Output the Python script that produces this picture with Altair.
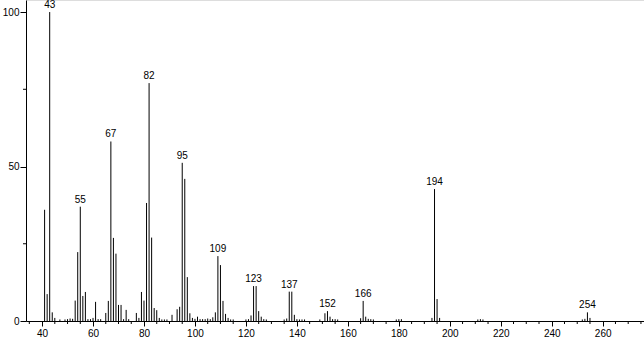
import altair as alt
import pandas as pd

# m/z values and relative intensities
mz = [41, 42, 43, 44, 45, 47, 49, 50, 51, 52, 53, 54, 55, 56, 57, 58, 59, 60, 61, 62, 63,
      65, 66, 67, 68, 69, 70, 71, 72, 73, 74, 77, 78, 79, 80, 81, 82, 83, 84, 85, 86, 87,
      88, 89, 91, 93, 94, 95, 96, 97, 98, 99, 100, 101, 102, 103, 104, 105, 106, 107, 108,
      109, 110, 111, 112, 113, 114, 115, 120, 121, 122, 123, 124, 125, 126, 127, 128,
      135, 136, 137, 138, 139, 140, 141, 142, 143, 149, 151, 152, 153, 154, 155, 156,
      165, 166, 167, 168, 169, 170, 179, 180, 181, 193, 194, 195, 196, 211, 212, 213,
      252, 253, 254, 255]
intensity = [36.0, 8.7, 100.0, 2.8, 1.0, 0.5, 0.5, 0.6, 0.8, 0.7, 6.6, 22.3, 37.0, 8.1, 9.4,
             0.6, 0.6, 1.0, 6.2, 0.6, 0.6,
             2.6, 6.5, 58.1, 26.9, 21.8, 5.2, 5.2, 0.6, 3.6, 0.6, 2.6, 1.0, 9.4, 6.6, 38.2,
             77.0, 27.0, 4.2, 3.5, 1.0, 0.5,
             0.5, 0.5, 2.0, 3.8, 4.6, 51.2, 46.0, 14.2, 2.5, 1.0, 0.7, 1.4, 0.6, 0.6, 0.6,
             0.8, 0.6, 1.2, 2.8,
             21.0, 18.1, 6.5, 2.3, 1.0, 0.5, 0.5, 0.5, 0.6, 1.8, 11.3, 11.3, 3.2, 1.4, 0.6, 0.5,
             0.5, 0.8, 9.5, 9.5, 2.0, 0.6, 0.5, 0.5, 0.5, 0.5, 2.5, 3.2, 1.4, 0.6, 0.6, 0.5,
             0.9, 6.5, 1.4, 0.7, 0.6, 0.5, 0.5, 0.6, 0.6, 1.0, 42.7, 7.1, 1.0, 0.5, 0.6, 0.5,
             0.5, 0.7, 2.8, 1.0]

labeled_peaks = [43, 55, 67, 82, 95, 109, 123, 137, 152, 166, 194, 254]

x_major = list(range(40, 261, 20))
x_minor = [v for v in range(35, 280, 5) if v % 20 != 0]
y_major = [0, 50, 100]
y_minor = [25, 75]

df = pd.DataFrame({"mz": mz, "intensity": intensity})
lab = df[df["mz"].isin(labeled_peaks)].copy()
lab["label"] = lab["mz"].astype(str)
xminor_df = pd.DataFrame({"v": x_minor})
yminor_df = pd.DataFrame({"v": y_minor})

FONT = "Liberation Sans"

xscale = alt.Scale(domain=[33.7, 276.2], nice=False, zero=False)
yscale = alt.Scale(domain=[0, 103.9], nice=False, zero=True)

xaxis = alt.Axis(
    values=x_major,
    tickSize=5,
    labelOverlap=False,
    labelFlush=False,
    labelPadding=2,
    title=None,
    grid=False,
    domainColor="black",
    tickColor="black",
    labelColor="black",
    labelFont=FONT,
    labelFontSize=10,
)
yaxis = alt.Axis(
    values=y_major,
    tickSize=6,
    labelOverlap=False,
    labelPadding=1,
    title=None,
    grid=False,
    domainColor="black",
    tickColor="black",
    labelColor="black",
    labelFont=FONT,
    labelFontSize=10,
)

bars = alt.Chart(df).mark_rule(color="black", strokeWidth=1).encode(
    x=alt.X("mz:Q", scale=xscale, axis=xaxis),
    y=alt.Y("intensity:Q", scale=yscale, axis=yaxis),
    y2=alt.datum(0),
)

xminor = alt.Chart(xminor_df).mark_rule(color="black", strokeWidth=1).encode(
    x=alt.X("v:Q", scale=xscale, axis=xaxis),
    y=alt.value(321),
    y2=alt.value(324),
)

yminor = alt.Chart(yminor_df).mark_rule(color="black", strokeWidth=1).encode(
    y=alt.Y("v:Q", scale=yscale, axis=yaxis),
    x=alt.value(0),
    x2=alt.value(-3),
)

texts = alt.Chart(lab).mark_text(
    font=FONT, fontSize=10, color="black", baseline="alphabetic", dy=-4, align="center"
).encode(
    x=alt.X("mz:Q", scale=xscale, axis=xaxis),
    y=alt.Y("intensity:Q", scale=yscale, axis=yaxis),
    text="label:N",
)

chart = alt.layer(bars, xminor, yminor, texts).properties(
    width=618,
    height=321,
    padding={"left": 26, "top": 0, "right": 0, "bottom": 18},
    autosize=alt.AutoSizeParams(type="none"),
).configure_view(stroke=None).configure(background="white")

chart.save("out.html", embed_options={"renderer": "svg", "actions": False})
